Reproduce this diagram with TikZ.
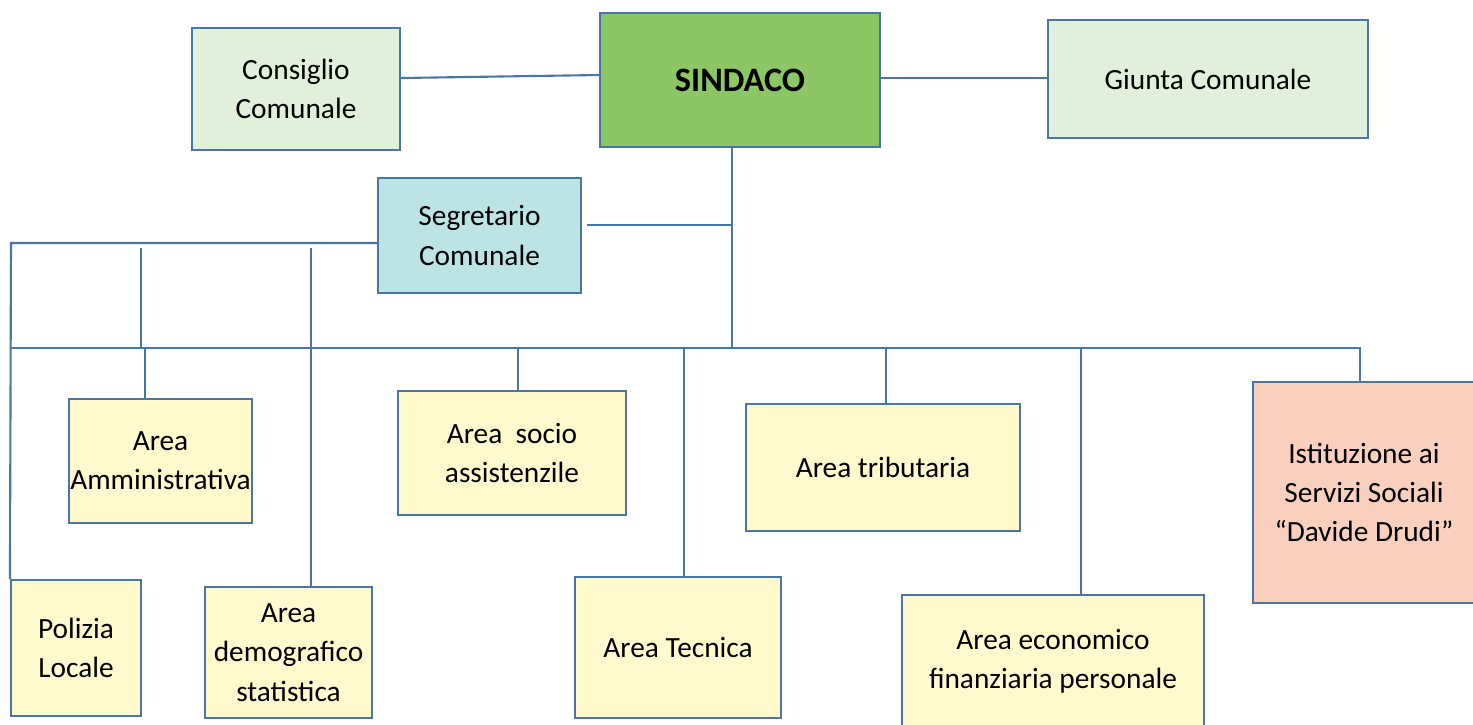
\documentclass[tikz,border=0pt]{standalone}
\usepackage{fontspec}
\setmainfont{Carlito}
\usepackage{tikz}
\usetikzlibrary{positioning}
\usetikzlibrary{calc}
\definecolor{linea}{HTML}{4A76A6}
\definecolor{verde}{HTML}{8CC665}
\definecolor{verdechiaro}{HTML}{E2EFDA}
\definecolor{azzurro}{HTML}{BCE4E5}
\definecolor{giallo}{HTML}{FEFACD}
\definecolor{salmone}{HTML}{F9D0BE}
\tikzset{
b/.style={
  rectangle,
  inner sep=0pt,
  align=center,
  draw=linea,
  line width=1.2pt,
  font=\fontsize{16.7}{22.3}\selectfont
  },
area/.style={b,fill=giallo}
}
\begin{document}
\begin{tikzpicture}[line width=1.2pt,draw=linea]
            \useasboundingbox (0,0) rectangle (29.46,-14.48);
            \node[b,fill=verde,minimum width=5.6cm,minimum height=2.68cm,font=\fontsize{19.5}{23}\selectfont\bfseries] (s) at (14.8,-1.6) {SINDACO};
            \node[b,fill=verdechiaro,minimum width=4.16cm,minimum height=2.44cm] (cc) at (5.92,-1.78) {Consiglio\\Comunale};
            \node[b,fill=verdechiaro,minimum width=6.4cm,minimum height=2.36cm] (gc) at (24.16,-1.58) {Giunta Comunale};
            \node[b,fill=azzurro,minimum width=4.06cm,minimum height=2.3cm] (sc) at (9.59,-4.71) {Segretario\\Comunale};
            \node[area,minimum width=3.66cm,minimum height=2.48cm] (amm) at (3.21,-9.22) {Area\\Amministrativa};
            \node[area,minimum width=4.56cm,minimum height=2.48cm] (soc) at (10.24,-9.06) {Area\ \ socio\\assistenzile};
            \node[area,minimum width=5.48cm,minimum height=2.54cm] (trib) at (17.66,-9.35) {Area tributaria};
            \node[b,fill=salmone,minimum width=4.44cm,minimum height=4.42cm] (ist) at (27.28,-9.85) {Istituzione ai\\Servizi Sociali\\``Davide Drudi''};
            \node[area,minimum width=2.6cm,minimum height=2.72cm] (pl) at (1.52,-12.96) {Polizia\\Locale};
            \node[area,minimum width=3.34cm,minimum height=2.62cm] (dem) at (5.77,-13.05) {Area\\demografico\\statistica};
            \node[area,minimum width=4.12cm,minimum height=2.82cm] (tec) at (13.56,-12.95) {Area Tecnica};
            \node[area,minimum width=6.04cm,minimum height=2.66cm] (eco) at (21.06,-13.23) {Area economico\\finanziaria personale};
            \coordinate (sx) at (0.22,-4.86);
            \coordinate (bx) at (0.22,-6.96);
            \coordinate (bm) at (14.64,-6.96);
            \coordinate (bd) at (27.2,-6.96);
            \coordinate (sr) at (11.74,-4.5);
            \draw (cc.east |- 0,-1.56) -- (s.west |- 0,-1.5);
            \draw (s.east |- 0,-1.56) -- (gc.west |- 0,-1.56);
            \draw (s.south -| bm) -- (bm);
            \draw (sr) -- (sr -| bm);
            \draw (sc.west |- sx) -- (sx) -- (pl.north west);
            \draw (bx) -- (bd) -- (ist.north -| bd);
            \draw (2.82,-4.96) -- (2.82,-6.96);
            \draw (2.9,-6.96) -- (amm.north -| 2.9,0);
            \draw (6.22,-4.96) -- (dem.north -| 6.22,0);
            \draw (10.36,-6.96) -- (soc.north -| 10.36,0);
            \draw (13.68,-6.96) -- (tec.north -| 13.68,0);
            \draw (17.72,-6.96) -- (trib.north -| 17.72,0);
            \draw (21.62,-6.96) -- (eco.north -| 21.62,0);
        \end{tikzpicture}
\end{document}
